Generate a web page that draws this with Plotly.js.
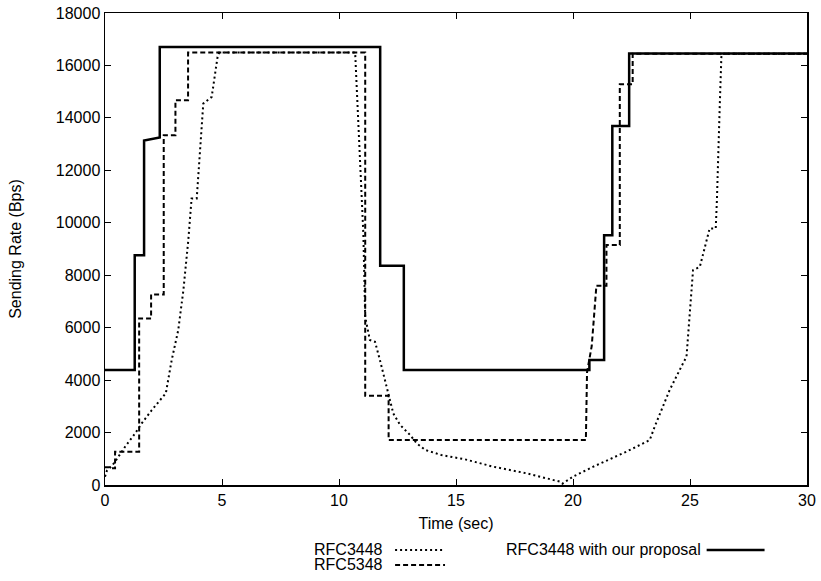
<!DOCTYPE html>
<html>
<head>
<meta charset="utf-8">
<script src="https://cdn.plot.ly/plotly-3.0.1.min.js"></script>
<style>html,body{margin:0;padding:0;background:#fff;}#chart{width:821px;height:581px;}</style>
</head>
<body>
<div id="chart"></div>
<script>
// RFC3448 (dotted)
const rfc3448_t = [0,0.08,0.29,0.43,0.86,1.29,1.57,2.0,2.6,2.85,3.13,3.35,3.56,3.70,3.92,4.13,4.20,4.56,4.81,4.88,10.69,11.04,11.12,11.32,11.54,11.75,11.97,12.11,12.32,12.61,13.04,13.32,13.69,14.37,15.38,16.59,18.02,19.44,19.55,20.0,20.87,22.28,23.0,23.28,23.49,24.13,24.7,24.85,24.99,25.13,25.42,25.7,25.84,26.1,26.15,26.27,26.34,26.4,30];
const rfc3448_v = [316,545,724,888,1460,1970,2351,2858,3500,4764,5907,7431,9337,10926,10926,13403,14547,14800,16323,16490,16490,9590,6400,5530,5460,4760,4000,3430,2730,2290,1906,1589,1334,1143,979,699,445,127,50,318,699,1270,1589,1715,2222,3620,4637,4890,6543,8193,8320,9337,9783,9783,10861,14417,16323,16450,16450];

// RFC5348 (dashed)
const rfc5348_t = [0,0.18,0.18,0.43,0.43,1.46,1.46,1.97,1.97,2.51,2.51,3.01,3.01,3.55,3.55,11.12,11.12,12.12,12.12,20.55,20.6,20.8,21.0,21.43,21.43,22.0,22.0,22.55,22.55,30];
const rfc5348_v = [675,675,636,636,1270,1270,6353,6353,7267,7267,13339,13339,14672,14672,16490,16490,3400,3400,1715,1715,4300,5300,7600,7600,9150,9150,15280,15280,16450,16450];

// RFC3448 with our proposal (solid)
const proposal_t = [0,1.27,1.27,1.67,1.67,2.0,2.34,2.34,11.76,11.76,12.77,12.77,20.7,20.7,21.33,21.33,21.68,21.68,22.4,22.4,30];
const proposal_v = [4383,4383,8760,8760,13140,13200,13250,16700,16700,8358,8358,4390,4390,4764,4764,9528,9528,13693,13693,16452,16452];

const xTicks = [0,5,10,15,20,25,30];
const yTicks = [0,2000,4000,6000,8000,10000,12000,14000,16000,18000];

const legendNames = ["RFC3448", "RFC5348", "RFC3448 with our proposal"];

const FONT = "Liberation Sans, Arial, sans-serif";
const FS = 16;

const traces = [
  {x: rfc3448_t, y: rfc3448_v, mode: "lines", name: legendNames[0],
   line: {color: "#000", width: 2, dash: "2px,3px"}, showlegend: false},
  {x: rfc5348_t, y: rfc5348_v, mode: "lines", name: legendNames[1],
   line: {color: "#000", width: 2, dash: "5px,3px"}, showlegend: false},
  {x: proposal_t, y: proposal_v, mode: "lines", name: legendNames[2],
   line: {color: "#000", width: 2.5}, showlegend: false}
];

const axisCommon = {
  showgrid: false, zeroline: false, showline: true, linecolor: "#000", linewidth: 1.5,
  mirror: "allticks", ticks: "inside", ticklen: 6, tickwidth: 1, tickcolor: "#000",
  tickfont: {family: FONT, size: FS, color: "#000"}
};

// paper coordinate helpers for decoration (legend area)
const PL = 104.5, PW = 703, PB = 485, PH = 472.3;
const px = v => (v - PL) / PW;
const py = v => (PB - v) / PH;

const layout = {
  width: 821, height: 581,
  margin: {l: 104.5, r: 13.5, t: 12.7, b: 96},
  paper_bgcolor: "#fff", plot_bgcolor: "#fff",
  xaxis: Object.assign({}, axisCommon, {
    range: [0, 30], tickvals: xTicks, ticktext: xTicks.map(String),
    title: {text: "Time (sec)", font: {family: FONT, size: FS, color: "#000"}, standoff: 10}
  }),
  yaxis: Object.assign({}, axisCommon, {
    range: [0, 18000], tickvals: yTicks, ticktext: yTicks.map(String),
    title: {text: "Sending Rate (Bps)", font: {family: FONT, size: FS, color: "#000"}, standoff: 30}
  }),
  annotations: [
    {xref: "paper", yref: "paper", x: px(385), y: py(550), text: legendNames[0],
     showarrow: false, xanchor: "right", yanchor: "middle", font: {family: FONT, size: FS, color: "#000"}},
    {xref: "paper", yref: "paper", x: px(385), y: py(565), text: legendNames[1],
     showarrow: false, xanchor: "right", yanchor: "middle", font: {family: FONT, size: FS, color: "#000"}},
    {xref: "paper", yref: "paper", x: px(703), y: py(550), text: legendNames[2],
     showarrow: false, xanchor: "right", yanchor: "middle", font: {family: FONT, size: FS, color: "#000"}}
  ],
  shapes: [
    {type: "line", xref: "paper", yref: "paper", x0: px(395), x1: px(445),
     y0: py(550), y1: py(550), line: {color: "#000", width: 2, dash: "2px,3px"}},
    {type: "line", xref: "paper", yref: "paper", x0: px(395), x1: px(445),
     y0: py(565), y1: py(565), line: {color: "#000", width: 2, dash: "5px,3px"}},
    {type: "line", xref: "paper", yref: "paper", x0: px(707), x1: px(765),
     y0: py(550), y1: py(550), line: {color: "#000", width: 2.5}}
  ]
};

Plotly.newPlot("chart", traces, layout, {displayModeBar: false, staticPlot: true});
</script>
</body>
</html>
